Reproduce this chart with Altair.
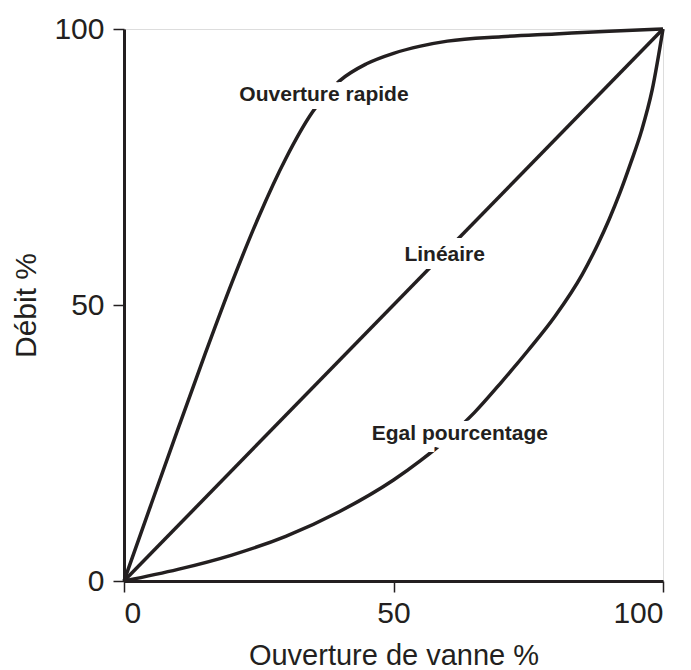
import altair as alt
import pandas as pd

# Ouverture rapide (quick opening)
rapide_x = [0, 5, 10, 15, 20, 25, 30, 35, 40, 45, 50, 55, 60, 70, 80, 90, 100]
rapide_y = [0, 13.8, 27.5, 41.0, 54.0, 66.0, 76.5, 85.0, 90.6, 93.7, 95.6, 96.9, 97.8, 98.6, 99.1, 99.6, 100]

# Linéaire
lin_x = [0, 100]
lin_y = [0, 100]

# Egal pourcentage (equal percentage)
egal_x = [0, 10, 20, 30, 40, 50, 55, 60, 65, 70, 75, 80, 85, 88, 90, 92, 94, 96, 98, 100]
egal_y = [0, 2.1, 4.7, 8.1, 12.6, 18.3, 21.8, 25.8, 30.5, 36.0, 41.8, 48.0, 55.5, 61.2, 65.5, 70.3, 75.7, 81.5, 89.0, 100]

label_text = ["Ouverture rapide", "Linéaire", "Egal pourcentage"]
label_x = [37.1, 59.5, 62.3]
label_y = [88.0, 59.0, 26.6]

rows = []
for name, xs, ys in [("rapide", rapide_x, rapide_y), ("lineaire", lin_x, lin_y), ("egal", egal_x, egal_y)]:
    for i, (a, b) in enumerate(zip(xs, ys)):
        rows.append({"serie": name, "x": a, "y": b, "o": i})
df = pd.DataFrame(rows)
labels = pd.DataFrame({"t": label_text, "x": label_x, "y": label_y})

INK = "#231f20"
FONT = "Liberation Sans"

xscale = alt.Scale(domain=[0, 100], nice=False, zero=False)
yscale = alt.Scale(domain=[0, 100], nice=False, zero=False)

xaxis = alt.Axis(
    values=[0, 50, 100], title="Ouverture de vanne %", grid=False,
    domainColor=INK, domainWidth=3, tickColor=INK, tickWidth=1.5, tickSize=11,
    labelFont=FONT, labelFontSize=30, labelColor=INK, labelPadding=6,
    titleFont=FONT, titleFontSize=29, titleFontWeight="normal", titleColor=INK,
    titleX=269.5, titleY=83, titleBaseline="alphabetic", titleAlign="center",
)
yaxis = alt.Axis(
    values=[0, 50, 100], title="Débit %", grid=False,
    domainColor=INK, domainWidth=3, tickColor=INK, tickWidth=1.5, tickSize=11,
    labelFont=FONT, labelFontSize=30, labelColor=INK, labelPadding=9,
    titleFont=FONT, titleFontSize=30, titleFontWeight="normal", titleColor=INK,
    titleX=-89, titleY=276, titleAngle=-90, titleBaseline="alphabetic", titleAlign="center",
)

lines = alt.Chart(df).mark_line(color=INK, strokeWidth=3.5, interpolate="monotone").encode(
    x=alt.X("x:Q", scale=xscale, axis=xaxis),
    y=alt.Y("y:Q", scale=yscale, axis=yaxis),
    detail="serie:N",
    order="o:Q",
)

halo = alt.Chart(labels).mark_text(
    font=FONT, fontSize=21, fontWeight="bold", color="white",
    stroke="white", strokeWidth=16, baseline="middle", align="center",
).encode(x=alt.X("x:Q", scale=xscale), y=alt.Y("y:Q", scale=yscale), text="t:N")

text = alt.Chart(labels).mark_text(
    font=FONT, fontSize=21, fontWeight="bold", color=INK,
    baseline="middle", align="center",
).encode(x=alt.X("x:Q", scale=xscale), y=alt.Y("y:Q", scale=yscale), text="t:N")

chart = alt.layer(lines, halo, text).properties(
    width=539, height=552,
    autosize=alt.AutoSizeParams(type="none"),
    padding={"left": 116, "top": 21, "right": 18, "bottom": 100},
).configure_view(stroke=INK, strokeWidth=3.5).configure(background="white")

chart.save("out.html", embed_options={"renderer": "svg", "actions": False})
